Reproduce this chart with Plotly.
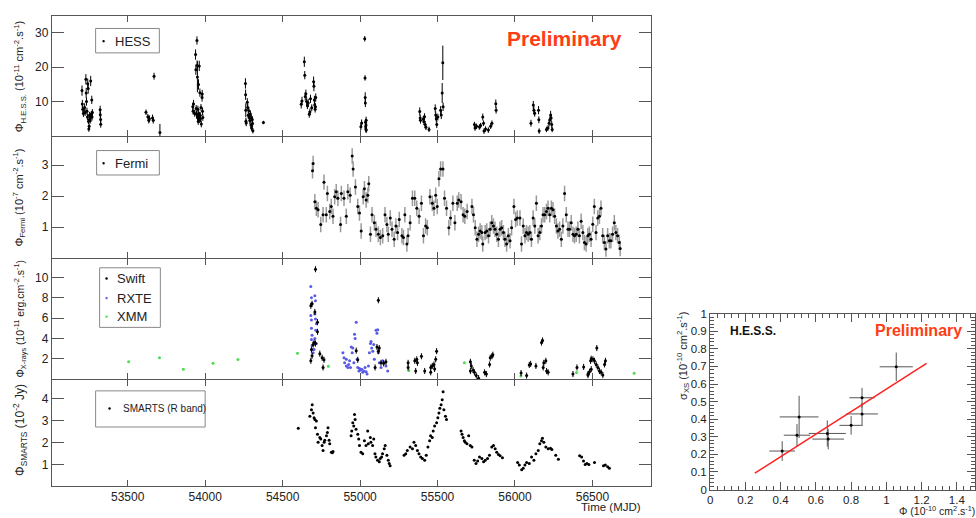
import plotly.graph_objects as go

W, H = 976, 518
def px(x): return x / W
def py(y): return 1 - y / H

# ---------------- DATA ----------------
hess_mjd = [53205,53207,53210,53214,53222,53225,53230,53232,53234,53237,53240,53242,53245,53247,53249,53251,53253,53256,53258,53261,53263,53265,53268,53270,53272,53322,53323,53325,53326,
            53618,53630,53636,53640,53660,53665,53670,53708,
            53920,53922,53925,53932,53938,53940,53942,53944,53947,53948,53950,53951,53953,53955,53957,53958,53960,53962,53964,53966,53968,53970,53973,53975,53980,53981,53983,53985,
            54260,54261,54262,54263,54265,54272,54275,54278,54282,54285,54288,54292,54295,54298,54300,54304,54306,54308,54376,
            54620,54625,54640,54643,54646,54650,54655,54660,54665,54672,54676,54680,54688,54700,54702,54705,54707,54710,54712,54714,
            55005,55010,55030,55032,55033,55034,55035,55036,55037,55038,55040,55039,
            55385,55388,55390,55408,55412,55416,55420,55425,55445,55485,55488,55492,55495,55502,55520,55524,55530,55534,55536,
            55738,55742,55752,55770,55778,55792,55797,55800,55810,55828,55843,55851,55876,55878,
            56103,56118,56122,56127,56152,56154,56156,56203,56213,56220,56225,56230,56233,56237,56240]
hess_flux = [13.2,9.3,7.8,6.5,8.3,6.8,16.5,12.5,10.0,7.2,5.5,15.2,13.8,4.2,2.0,2.8,6.0,5.0,4.4,16.0,5.8,6.3,10.5,5.5,6.8,7.6,6.2,4.8,3.4,
             6.9,5.6,4.6,5.0,5.2,4.6,17.4,1.0,
             8.5,7.2,9.3,6.6,23.7,19.3,8.0,6.3,27.8,20.5,17.2,5.3,7.8,4.2,15.0,6.6,5.8,20.4,4.8,12.6,6.0,5.0,8.3,3.5,11.2,12.2,7.2,5.4,
             15.3,12.0,7.5,4.3,3.8,9.8,8.3,6.0,7.3,5.4,4.5,6.4,3.2,5.2,2.3,4.8,3.6,1.5,3.9,
             9.2,10.2,21.6,17.7,11.5,12.3,10.0,8.8,9.6,6.3,7.0,10.8,8.2,15.8,14.5,10.5,9.0,7.8,8.5,11.2,
             2.7,3.8,28.3,16.9,11.2,9.6,4.0,2.7,2.0,3.2,1.7,4.6,
             7.1,5.2,4.6,4.9,4.2,5.6,3.3,2.5,1.9,8.0,6.1,4.9,3.3,5.5,7.5,6.1,12.5,21.3,8.5,
             3.3,2.3,2.8,2.6,3.0,5.5,3.7,1.4,2.0,1.7,2.8,3.7,9.4,7.5,
             3.7,9.0,7.5,6.6,7.5,4.7,1.4,1.9,2.3,3.7,4.7,6.1,5.2,3.3,1.9]
hess_err = [1.5,1.2,1.0,1.0,1.2,1.0,1.5,1.5,1.2,1.0,1.0,1.5,1.5,0.8,0.8,0.8,1.0,0.8,0.8,1.5,1.0,1.0,1.2,1.0,1.0,1.2,1.0,1.0,1.0,
            0.8,0.8,1.0,1.0,1.0,1.0,1.0,2.5,
            1.2,1.0,1.2,1.0,1.5,1.5,1.0,1.0,1.2,1.5,4.5,1.0,1.0,1.0,1.5,1.0,1.0,1.5,1.0,1.2,1.0,1.0,1.0,1.0,1.2,1.2,1.0,1.0,
            1.5,1.5,2.0,1.0,1.0,1.2,1.0,1.0,1.0,1.0,1.0,1.0,1.0,1.0,0.8,1.0,1.0,0.8,0.5,
            1.2,1.2,1.5,1.2,1.2,1.2,1.2,1.0,1.2,1.0,1.0,1.2,1.0,1.5,1.5,1.2,1.0,1.0,1.0,1.2,
            1.0,1.0,0.8,0.8,1.5,1.2,1.0,1.0,1.0,1.0,0.8,1.0,
            1.2,1.0,1.0,1.0,1.0,1.0,1.0,0.8,0.8,1.2,1.0,1.0,1.0,1.0,1.2,1.2,2.9,5.0,1.2,
            0.8,0.8,0.8,0.8,0.8,1.0,0.8,0.8,0.8,0.8,0.8,0.8,1.2,1.0,
            1.0,1.2,1.2,1.0,1.2,1.0,0.8,0.8,0.8,1.0,1.0,1.2,1.0,1.0,0.8]

fermi_mjd = [54693,54697,54708,54718,54729,54746,54761,54767,54782,54789,54804,54814,54825,54836,54846,54857,54874,54879,54896,54911,54921,54936,
             54949,54955,54970,54985,54996,55007,55020,55028,55039,55050,55056,55067,55077,55092,55103,55118,55131,55146,55161,55173,55182,55195,
             55206,55220,55231,55242,55253,55270,55280,55289,55302,55310,55323,55338,55353,55366,55381,55396,55409,55423,55434,55451,55466,55477,
             55488,55498,55509,55520,55535,55545,55558,55573,55584,55599,55612,55627,55637,55652,55665,55676,55691,55722,55732,
             55743,55754,55765,55775,55786,55792,55807,55818,55829,55839,55850,55861,55871,55882,55893,55903,55914,55925,55935,55946,55957,55968,
             55978,55993,56004,56015,56032,56042,56053,56064,56074,56085,56096,56106,56117,56128,56138,56149,56160,56171,56181,56192,56203,56213,
             56224,56235,56245,56256,56267,56277,56288,56299,56309,56320,56331,56342,56352,56363,56374,56384,56395,56406,56416,56427,56438,56448,
             56459,56470,56480,56491,56502,56512,56523,56534,56545,56555,56566,56577,56587,56598,56609,56619,56630,56641,56651,56662,56673,56679]
fermi_flux = [2.82,3.05,1.82,1.61,1.56,1.08,1.40,2.45,1.40,2.08,1.50,1.66,1.35,1.98,2.14,1.93,1.08,2.08,1.93,1.35,2.14,2.03,
              3.29,2.87,2.29,1.66,1.45,0.87,1.98,2.24,1.87,2.03,2.40,0.77,1.40,1.14,0.93,0.77,0.66,0.72,1.40,1.08,0.77,1.29,
              0.93,0.61,1.03,0.82,1.24,0.72,0.66,1.40,0.45,0.72,1.14,1.93,1.93,1.61,1.35,1.77,0.72,1.03,0.98,1.98,1.77,1.61,
              2.03,1.66,2.56,2.87,2.87,1.93,1.61,0.98,1.29,1.77,1.14,1.77,1.87,1.82,1.40,1.35,1.50,1.66,1.40,
              0.98,0.61,0.77,0.87,0.82,0.45,0.82,0.87,0.72,0.93,1.14,1.03,0.93,0.77,0.61,0.93,0.98,0.82,0.61,0.45,0.72,0.56,
              0.98,1.66,1.24,1.29,1.29,0.45,1.03,0.72,0.82,0.77,0.82,0.61,1.29,1.03,1.77,0.72,0.82,1.03,1.40,1.40,1.50,1.61,
              1.40,1.61,1.56,1.35,1.03,0.87,0.93,0.61,1.03,2.08,1.40,0.93,0.93,1.14,0.77,0.72,0.77,0.93,0.72,1.19,0.82,0.50,
              0.45,0.72,0.77,0.61,1.09,1.66,0.82,1.29,1.35,1.61,0.72,0.50,0.29,0.72,0.56,0.56,0.77,1.14,0.82,0.72,0.50,0.31]

swift_mjd = [54712,54682,54690,54708,54725,54725,54697,54686,54690,54703,54712,54682,54740,54755,54767,54761,
             54975,54985,55118,55109,55118,55124,55097,55135,55152,55167,
             55310,55310,55353,55366,55370,55359,55396,55417,55456,55456,55466,55477,55488,55494,55481,
             55712,55718,55712,55729,55738,55750,55765,55804,55815,55836,55840,55851,55857,
             56039,56075,56092,56101,56135,56171,56178,56186,56199,56182,56204,56214,
             56374,56400,56443,56471,56481,56488,56492,56503,56513,56528,56524,56535,56545,56556,56567,56578,56584,56492,56471]
swift_flux = [10.8,7.2,7.4,6.6,5.6,4.65,3.4,2.9,2.3,3.6,3.5,1.8,2.5,2.1,1.9,1.15,
              2.8,1.9,7.75,3.15,2.75,3.05,1.15,1.6,1.55,1.7,
              1.6,1.15,1.8,1.95,1.6,0.8,2.25,0.8,1.15,0.67,1.3,1.45,1.95,2.75,1.0,
              1.7,1.3,0.8,0.9,0.67,0.35,0.1,0.67,0.5,1.45,2.1,2.25,2.4,
              0.6,0.35,1.4,1.5,1.3,3.6,3.8,1.6,1.8,1.15,0.8,0.67,
              0.5,1.15,1.2,0.5,0.73,1.8,2.0,1.95,1.8,3.05,1.45,1.15,0.8,0.67,0.4,1.45,1.8,0.98,0.4]

rxte_mjd = [54682,54686,54690,54682,54686,54686,54690,54686,54690,54697,54708,54712,54708,54712,54718,54714,54708,54718,54703,54697,
            54889,54896,54900,54911,54911,54921,54926,54932,54938,54943,54949,54953,54960,54964,54968,54975,54981,54985,54992,54996,
            55003,55011,55017,55024,55032,55039,55045,55054,55060,55067,55071,55075,55082,55088,55092,55103,55109,55114,55118,55124,
            55135,55146,55156,55167,55178]
rxte_flux = [9.1,8.0,7.4,6.25,5.8,5.0,4.3,3.9,3.3,2.9,8.2,7.7,6.4,5.9,5.45,4.8,4.0,3.5,2.9,2.6,
             2.6,2.1,1.6,1.95,1.3,1.15,1.45,1.8,1.15,3.15,2.6,3.05,1.6,4.4,4.0,5.6,1.95,1.15,0.8,1.05,
             0.9,0.98,0.67,0.8,1.15,0.73,0.5,1.3,2.6,3.5,3.7,3.05,2.75,3.4,1.95,4.8,4.5,4.85,2.6,1.6,
             1.15,1.8,1.6,1.3,0.8]

xmm_mjd = [53506,53705,53859,54051,54212,54596,54795,55314,55673,56038,56397,56769]
xmm_flux = [1.72,2.1,0.97,1.55,1.93,2.55,1.27,0.85,1.6,0.3,0.66,0.57]

smarts_mjd = [54601,54676,54686,54691,54697,54703,54708,54712,54718,54725,54729,54740,54746,54755,54761,54768,54772,54783,54789,54793,54800,54804,54815,54821,54825,
              54942,54946,54953,54959,54964,54968,54974,54985,54991,54996,55006,55017,55028,55038,55049,55053,55066,55070,55081,55088,55096,55102,55113,55124,55130,55139,55145,55156,55162,55173,55182,55188,55194,
              55284,55295,55305,55323,55338,55348,55359,55370,55380,55391,55402,55417,55427,55438,55449,55455,55466,55472,55481,55494,55502,55509,55515,55523,55530,55536,55541,55551,55558,
              55652,55658,55665,55673,55679,55690,55701,55711,55722,55737,55748,55759,55771,55786,55797,55808,55823,55835,55850,55861,55872,55882,55893,55904,55919,
              56017,56028,56043,56053,56064,56075,56092,56107,56122,56135,56150,56160,56171,56177,56186,56199,56214,56229,56238,56263,56280,
              56417,56430,56442,56453,56464,56477,56513,56571,56583,56598,56609]
smarts_flux = [2.65,3.2,3.5,3.72,3.35,3.13,3.05,2.68,2.98,2.38,2.01,2.23,2.16,1.86,1.64,2.01,2.1,2.31,2.46,2.68,2.1,1.94,1.56,1.53,1.59,
               2.31,2.53,2.9,2.75,3.28,3.05,2.61,2.38,2.16,1.86,1.56,1.49,2.08,1.86,2.53,1.94,2.23,2.01,1.86,2.16,1.49,1.34,1.19,1.12,1.27,1.34,1.49,1.71,1.86,1.42,1.19,1.04,0.94,
               1.42,1.49,1.64,1.79,1.71,2.01,1.86,1.64,1.49,1.34,1.27,1.19,1.42,1.79,2.08,2.31,2.23,2.53,2.75,2.9,3.13,3.35,3.57,3.72,3.95,4.32,3.5,3.2,3.05,
               2.53,2.38,2.23,2.08,2.01,1.94,2.31,1.86,1.79,1.19,1.04,1.15,1.34,1.27,1.12,1.19,1.27,1.42,1.79,1.86,1.71,1.56,1.45,1.39,1.3,
               1.09,0.97,0.75,0.82,0.97,1.09,1.04,1.34,1.19,1.49,1.64,1.94,2.08,2.19,2.01,1.79,1.71,1.74,1.68,1.42,1.24,
               1.39,1.34,1.15,0.99,1.04,0.99,1.09,0.94,0.97,0.89,0.82]

# excess-variance vs flux (H.E.S.S.)
phi = [0.409,0.505,0.493,0.665,0.670,0.800,0.862,0.862,1.056]
phi_err = [0.073,0.110,0.075,0.105,0.090,0.066,0.090,0.072,0.094]
sig = [0.219,0.413,0.309,0.319,0.287,0.365,0.430,0.522,0.698]
sig_err = [0.056,0.120,0.063,0.074,0.058,0.053,0.063,0.056,0.081]
fit_slope, fit_intercept = 0.641, -0.070
fit_xrange = [0.254, 1.228]

# ---------------- FIGURE ----------------
fig = go.Figure()
BLK = "black"
BLUE = "#5a5ae6"
GREEN = "#4fdc4f"

fig.add_trace(go.Scatter(x=hess_mjd, y=hess_flux, mode="markers",
    marker=dict(size=3, color=BLK),
    error_y=dict(type="data", array=hess_err, color=BLK, thickness=1, width=0),
    xaxis="x", yaxis="y", showlegend=False))
fig.add_trace(go.Scatter(x=fermi_mjd, y=fermi_flux, mode="markers",
    marker=dict(size=3, color=BLK),
    error_y=dict(type="constant", value=0.25, color="#9a9a9a", thickness=1.5, width=0),
    xaxis="x2", yaxis="y2", showlegend=False))
fig.add_trace(go.Scatter(x=xmm_mjd, y=xmm_flux, mode="markers",
    marker=dict(size=3, color=GREEN), xaxis="x3", yaxis="y3", showlegend=False))
fig.add_trace(go.Scatter(x=rxte_mjd, y=rxte_flux, mode="markers",
    marker=dict(size=3, color=BLUE), xaxis="x3", yaxis="y3", showlegend=False))
fig.add_trace(go.Scatter(x=swift_mjd, y=swift_flux, mode="markers",
    marker=dict(size=3, color=BLK),
    error_y=dict(type="constant", value=0.3, color=BLK, thickness=1, width=0),
    xaxis="x3", yaxis="y3", showlegend=False))
fig.add_trace(go.Scatter(x=smarts_mjd, y=smarts_flux, mode="markers",
    marker=dict(size=3, color=BLK), xaxis="x4", yaxis="y4", showlegend=False))

fig.add_trace(go.Scatter(x=phi, y=sig, mode="markers",
    marker=dict(size=3, color=BLK),
    error_x=dict(type="data", array=phi_err, color="#555", thickness=1, width=0),
    error_y=dict(type="data", array=sig_err, color="#555", thickness=1, width=0),
    xaxis="x5", yaxis="y5", showlegend=False))
fig.add_trace(go.Scatter(x=fit_xrange, y=[fit_slope * v + fit_intercept for v in fit_xrange],
    mode="lines", line=dict(color="#ff2020", width=1.5),
    xaxis="x5", yaxis="y5", showlegend=False))

FONT = "Liberation Sans, Arial, sans-serif"
LC = "#555"
xdom = [px(49), px(651)]
xr = [53010, 56880]
xt = [53500, 54000, 54500, 55000, 55500, 56000, 56500]
common_x = dict(domain=xdom, range=xr, tickvals=xt, ticktext=[str(v) for v in xt],
                ticks="inside", ticklen=6, tickcolor=LC,
                showline=True, linecolor=LC, linewidth=1, mirror="ticks",
                showgrid=False, zeroline=False)
common_y = dict(ticks="inside", ticklen=12, tickcolor=LC, showline=True, linecolor=LC,
                linewidth=1, mirror="ticks", showgrid=False, zeroline=False,
                tickfont=dict(size=12, color="#222", family=FONT))

layout = dict(
    width=W, height=H, margin=dict(l=0, r=0, t=0, b=0),
    paper_bgcolor="white", plot_bgcolor="white",
    font=dict(family=FONT, size=12, color="#222"),
    xaxis=dict(common_x, anchor="y", showticklabels=False),
    xaxis2=dict(common_x, anchor="y2", showticklabels=False, matches="x"),
    xaxis3=dict(common_x, anchor="y3", showticklabels=False, matches="x"),
    xaxis4=dict(common_x, anchor="y4", showticklabels=True, matches="x",
                tickfont=dict(size=12, color="#222", family=FONT)),
    yaxis=dict(common_y, domain=[py(133), py(10)], range=[0, 35], tickvals=[10, 20, 30], anchor="x"),
    yaxis2=dict(common_y, domain=[py(258), py(134)], range=[0, 3.91], tickvals=[1, 2, 3], anchor="x2"),
    yaxis3=dict(common_y, domain=[py(382), py(259)], range=[0, 11.8], tickvals=[2, 4, 6, 8, 10], anchor="x3"),
    yaxis4=dict(common_y, domain=[py(491), py(383)], range=[0.03, 4.85], tickvals=[1, 2, 3, 4], anchor="x4"),
    xaxis5=dict(domain=[px(710), px(975.5)], range=[0, 1.5], dtick=0.2, tick0=0, anchor="y5",
                ticks="inside", ticklen=8, tickcolor=LC, showline=True, linecolor=LC,
                mirror="ticks", showgrid=False, zeroline=False,
                minor=dict(dtick=0.04, ticklen=4, ticks="inside", tickcolor=LC),
                tickfont=dict(size=11.5, color="#222", family=FONT)),
    yaxis5=dict(domain=[py(495), py(315)], range=[0, 1], dtick=0.1, tick0=0, anchor="x5",
                ticks="inside", ticklen=8, tickcolor=LC, showline=True, linecolor=LC,
                mirror="ticks", showgrid=False, zeroline=False,
                minor=dict(dtick=0.02, ticklen=4, ticks="inside", tickcolor=LC),
                tickfont=dict(size=11.5, color="#222", family=FONT)),
)
fig.update_layout(**layout)

ann = []
def A(text, x, y, size=12, xanchor="center", yanchor="middle", angle=0, color="#222", bold=False):
    if bold:
        text = "<b>" + text + "</b>"
    ann.append(dict(text=text, x=px(x), y=py(y), xref="paper", yref="paper", showarrow=False,
                    xanchor=xanchor, yanchor=yanchor, textangle=angle,
                    font=dict(size=size, color=color, family=FONT)))

A("Φ<sub>H.E.S.S.</sub> (10<sup>-11</sup> cm<sup>-2</sup>.s<sup>-1</sup>)", 17, 72, size=11, angle=-90)
A("Φ<sub>Fermi</sub> (10<sup>-7</sup> cm<sup>-2</sup>.s<sup>-1</sup>)", 17, 196, size=11, angle=-90)
A("Φ<sub>X-rays</sub> (10<sup>-11</sup> erg.cm<sup>-2</sup>.s<sup>-1</sup>)", 17, 320, size=10.5, angle=-90)
A("Φ<sub>SMARTS</sub> (10<sup>-2</sup> Jy)", 17, 434, size=12, angle=-90)
A("Time (MJD)", 643, 513, size=11.5, xanchor="right")
A("Preliminary", 564, 33, size=21, color="#ff3c14", bold=True)

# legends
A("HESS", 110, 36, size=13, xanchor="left")
A("Fermi", 110, 161, size=13, xanchor="left")
A("Swift", 112, 279, size=13, xanchor="left")
A("RXTE", 112, 299, size=13, xanchor="left")
A("XMM", 112, 318, size=13, xanchor="left")
A("SMARTS (R band)", 118, 412, size=10, xanchor="left")

# right panel
A("H.E.S.S.", 728, 333, size=12, xanchor="left", color="#111", bold=True)
A("Preliminary", 919, 332, size=16, color="#ff3c14", bold=True)
A("σ<sub>XS</sub> (10<sup>-10</sup> cm<sup>2</sup>.s<sup>-1</sup>)", 683, 358, size=11, angle=-90)
A("Φ (10<sup>-10</sup> cm<sup>2</sup>.s<sup>-1</sup>)", 978, 516, size=10.5, xanchor="right")

shapes = []
def box(x0, y0, x1, y1):
    shapes.append(dict(type="rect", xref="paper", yref="paper", x0=px(x0), x1=px(x1), y0=py(y1), y1=py(y0),
                       line=dict(color="#888", width=1), fillcolor="rgba(0,0,0,0)"))
def dot(x, y, color):
    shapes.append(dict(type="circle", xref="paper", yref="paper", x0=px(x - 1.2), x1=px(x + 1.2),
                       y0=py(y + 1.2), y1=py(y - 1.2), line=dict(width=0), fillcolor=color))
box(93, 23, 157, 48); dot(101, 36, BLK)
box(94, 148, 157, 173); dot(101, 161, BLK)
box(97, 268, 158, 329); dot(104, 279, BLK); dot(104, 299, BLUE); dot(104, 318, GREEN)
box(93, 394, 203, 431); dot(107, 412, BLK)

fig.update_layout(annotations=ann, shapes=shapes)
fig.write_html("out.html")
